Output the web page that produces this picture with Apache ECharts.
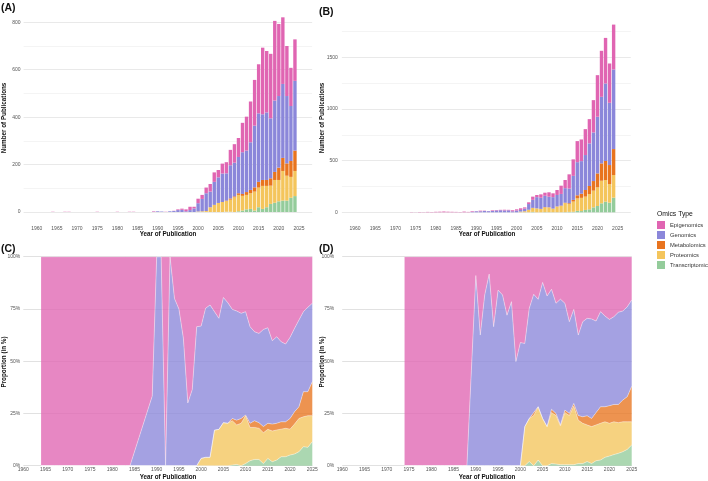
<!DOCTYPE html>
<html lang="en">
<head>
  <meta charset="UTF-8">
  <script src="https://cdn.jsdelivr.net/npm/echarts@6/dist/echarts.min.js"></script>
  <title>omics publications</title>
  <style>html, body { margin: 0; padding: 0; background: #fff; }</style>
</head>
<body>
<div id="chart" style="width: 708px; height: 481px;"></div>
<script type="text/javascript">
  // stacking order, bottom to top
  const types = ['Transcriptomics', 'Proteomics', 'Metabolomics', 'Genomics', 'Epigenomics'];
  const legendOrder = ['Epigenomics', 'Genomics', 'Metabolomics', 'Proteomics', 'Transcriptomics'];
  const typeColors = {
    Epigenomics: '#E065B2',
    Genomics: '#8B87DA',
    Metabolomics: '#E8741F',
    Proteomics: '#F4C55C',
    Transcriptomics: '#94CC9B'
  };

  // (A) publication counts
  const yearsA = [1964, 1967, 1968, 1975, 1980, 1983, 1984,
    1989, 1990, 1991, 1992, 1993, 1994, 1995, 1996, 1997, 1998, 1999,
    2000, 2001, 2002, 2003, 2004, 2005, 2006, 2007, 2008, 2009, 2010, 2011, 2012,
    2013, 2014, 2015, 2016, 2017, 2018, 2019, 2020, 2021, 2022, 2023, 2024];
  const epiA = [1, 1, 1, 1, 1, 1, 1,
    2, 0, 0, 1, 0, 1, 3, 5, 8, 14, 7,
    19, 17, 24, 32, 40, 31, 42, 47, 65, 78, 80, 124, 143, 172, 193, 207, 281, 259, 272, 336, 304, 281, 211, 161, 175];
  const genA = [0, 0, 0, 0, 0, 0, 0,
    1, 3, 2, 0, 3, 4, 8, 9, 3, 8, 15,
    35, 52, 75, 66, 97, 108, 120, 115, 140, 142, 153, 176, 175, 201, 260, 289, 277, 285, 253, 301, 302, 312, 284, 232, 294];
  const metA = [0, 0, 0, 0, 0, 0, 0,
    0, 0, 0, 0, 0, 0, 0, 0, 0, 0, 0,
    0, 0, 0, 0, 0, 0, 0, 2, 5, 4, 7, 8, 12, 14, 18, 24, 25, 25, 31, 34, 52, 55, 52, 67, 86];
  const proA = [0, 0, 0, 0, 0, 0, 0,
    0, 0, 0, 0, 0, 0, 0, 0, 0, 0, 0,
    2, 3, 4, 20, 30, 38, 42, 45, 51, 62, 69, 62, 61, 66, 80, 83, 97, 90, 77, 96, 90, 125, 105, 88, 106];
  const traA = [0, 0, 0, 0, 0, 0, 0,
    0, 0, 0, 0, 0, 0, 0, 0, 0, 0, 0,
    0, 0, 0, 0, 0, 0, 0, 1, 1, 0, 3, 6, 11, 13, 6, 20, 13, 20, 34, 39, 45, 48, 48, 60, 67];

  // (B) publication counts
  const yearsB = [1974, 1975, 1976, 1977, 1978, 1979, 1980, 1981, 1982, 1983, 1984, 1985, 1986, 1987, 1988,
    1989, 1990, 1991, 1992, 1993, 1994, 1995, 1996, 1997, 1998, 1999,
    2000, 2001, 2002, 2003, 2004, 2005, 2006, 2007, 2008, 2009, 2010, 2011, 2012,
    2013, 2014, 2015, 2016, 2017, 2018, 2019, 2020, 2021, 2022, 2023, 2024];
  const epiB = [2, 1, 3, 2, 4, 3, 5, 6, 8, 6, 5, 4, 3, 7, 4,
    6, 1, 6, 3, 1, 6, 4, 4, 7, 5, 10,
    12, 16, 12, 17, 31, 21, 33, 30, 43, 37, 48, 80, 79, 138, 160, 204, 210, 251, 235, 313, 403, 446, 442, 381, 435];
  const genB = [0, 0, 0, 0, 0, 0, 0, 0, 0, 0, 0, 0, 0, 0, 0,
    5, 10, 10, 13, 11, 13, 18, 20, 18, 19, 10,
    17, 16, 25, 55, 78, 109, 108, 109, 102, 111, 111, 113, 141, 142, 233, 321, 316, 339, 413, 471, 549, 645, 751, 603, 771];
  const metB = [0, 0, 0, 0, 0, 0, 0, 0, 0, 0, 0, 0, 0, 0, 0,
    0, 0, 0, 0, 0, 0, 0, 0, 0, 0, 0,
    0, 0, 1, 2, 2, 0, 0, 3, 2, 1, 2, 3, 4, 8, 16, 30, 40, 64, 78, 93, 135, 168, 184, 184, 252];
  const proB = [0, 0, 0, 0, 0, 0, 0, 0, 0, 0, 0, 0, 0, 0, 0,
    0, 0, 0, 0, 0, 0, 0, 0, 0, 0, 0,
    0, 7, 9, 23, 37, 38, 33, 46, 46, 34, 54, 61, 87, 76, 99, 121, 128, 129, 148, 162, 181, 219, 210, 180, 219];
  const traB = [0, 0, 0, 0, 0, 0, 0, 0, 0, 0, 0, 0, 0, 0, 0,
    0, 0, 0, 0, 0, 0, 0, 0, 0, 0, 0,
    0, 0, 1, 0, 4, 0, 0, 2, 1, 1, 1, 1, 2, 4, 5, 14, 12, 23, 29, 48, 61, 87, 103, 94, 142];

  // (C) proportions in %
  const yearsC = [1964, 1967, 1968, 1975, 1980, 1983, 1984,
    1989, 1990, 1991, 1992, 1993, 1994, 1995, 1996, 1997, 1998, 1999,
    2000, 2001, 2002, 2003, 2004, 2005, 2006, 2007, 2008, 2009, 2010, 2011, 2012,
    2013, 2014, 2015, 2016, 2017, 2018, 2019, 2020, 2021, 2022, 2023, 2024, 2025];
  const epiC = [100, 100, 100, 100, 100, 100, 100,
    66.7, 0, 0, 100, 0, 20, 25, 39, 70, 63.6, 33.5,
    33.2, 24.7, 23.1, 26.3, 29.5, 19.5, 22, 25.2, 26, 27.1, 26.3, 33.5, 35.9,
    36.7, 34.8, 34, 40.2, 38.3, 40.7, 41.8, 38.6, 34.3, 30.3, 26.3, 24.2, 22.3];
  const genC = [0, 0, 0, 0, 0, 0, 0,
    33.3, 100, 100, 0, 100, 80, 75, 61, 30, 36.4, 66.5,
    63.3, 71.3, 72.9, 56.7, 53.1, 59.9, 57.7, 52.2, 52.2, 50.3, 49.5, 46.2, 42.6,
    42.7, 46.5, 45.7, 39.9, 41.4, 38.3, 37.2, 38.8, 39.9, 41.5, 38.3, 40.4, 37.5];
  const metC = [0, 0, 0, 0, 0, 0, 0,
    0, 0, 0, 0, 0, 0, 0, 0, 0, 0, 0,
    0, 0, 0, 0, 0, 0, 0, 1.1, 2.3, 2.3, 0.3, 2, 3.2,
    2.7, 2.9, 2.9, 3.3, 3.2, 3.5, 3.1, 5.1, 5.9, 5.6, 12, 11.5, 16.3];
  const proC = [0, 0, 0, 0, 0, 0, 0,
    0, 0, 0, 0, 0, 0, 0, 0, 0, 0, 0,
    3.5, 4, 4, 17, 17.4, 20.6, 20.3, 21.2, 18.9, 20.3, 22.9, 15.9, 15.3,
    14.9, 14.8, 13.9, 14.7, 14.4, 13.2, 13.6, 12.4, 14.3, 15.9, 14.3, 15.1, 12.4];
  const traC = [0, 0, 0, 0, 0, 0, 0,
    0, 0, 0, 0, 0, 0, 0, 0, 0, 0, 0,
    0, 0, 0, 0, 0, 0, 0, 0.3, 0.6, 0, 1, 2.4, 3,
    3, 1, 3.5, 1.9, 2.7, 4.3, 4.3, 5.1, 5.6, 6.7, 9.1, 8.8, 11.5];

  // (D) proportions in %
  const yearsD = [1974, 1975, 1976, 1977, 1978, 1979, 1980, 1981, 1982, 1983, 1984, 1985, 1986, 1987, 1988,
    1989, 1990, 1991, 1992, 1993, 1994, 1995, 1996, 1997, 1998, 1999,
    2000, 2001, 2002, 2003, 2004, 2005, 2006, 2007, 2008, 2009, 2010, 2011, 2012,
    2013, 2014, 2015, 2016, 2017, 2018, 2019, 2020, 2021, 2022, 2023, 2024, 2025];
  const epiD = [100, 100, 100, 100, 100, 100, 100, 100, 100, 100, 100, 100, 100, 100, 100,
    54.5, 9, 37.5, 18.3, 8.3, 33.5, 16, 18.3, 28, 21.5, 50.2,
    41.1, 41.5, 24.7, 18, 20.4, 12.3, 18.8, 15.6, 22.3, 20.3, 22.3, 31.1, 25.2,
    37.5, 31.1, 29.5, 29.8, 30.8, 26.3, 28.4, 30, 28.7, 26.6, 26, 24, 20.7];
  const genD = [0, 0, 0, 0, 0, 0, 0, 0, 0, 0, 0, 0, 0, 0, 0,
    45.5, 91, 62.5, 81.7, 91.7, 66.5, 84, 81.7, 72, 78.5, 49.8,
    58.9, 39.8, 52.7, 56.6, 51.4, 65.1, 62.5, 57.4, 52.7, 60.2, 51.1, 43.9, 45,
    38.5, 45.5, 46.6, 47.6, 43.8, 45.5, 43.4, 41.3, 42, 44.1, 42.6, 43, 41.3];
  const metD = [0, 0, 0, 0, 0, 0, 0, 0, 0, 0, 0, 0, 0, 0, 0,
    0, 0, 0, 0, 0, 0, 0, 0, 0, 0, 0,
    0, 0, 0, 1.4, 0, 0, 0, 1.6, 1, 0.5, 1.2, 1, 1.3,
    2.2, 3.1, 4.4, 3.9, 5.9, 7.9, 7.2, 8.4, 8.3, 8.7, 10.4, 12, 17];
  const proD = [0, 0, 0, 0, 0, 0, 0, 0, 0, 0, 0, 0, 0, 0, 0,
    0, 0, 0, 0, 0, 0, 0, 0, 0, 0, 0,
    0, 18.7, 20.6, 24, 25.5, 22.6, 18.7, 24.4, 23.2, 18.5, 24.9, 23.5, 28,
    20.8, 19.3, 17.5, 17.7, 17.1, 17.6, 17, 15.7, 15.7, 14.7, 14.3, 13.2, 11.1];
  const traD = [0, 0, 0, 0, 0, 0, 0, 0, 0, 0, 0, 0, 0, 0, 0,
    0, 0, 0, 0, 0, 0, 0, 0, 0, 0, 0,
    0, 0, 2, 0, 2.7, 0, 0, 1, 0.8, 0.5, 0.5, 0.5, 0.5,
    1, 1, 2, 1, 2.4, 2.7, 4, 4.6, 5.3, 5.9, 6.7, 7.8, 9.9];

  const panels = [
    {years: yearsA, data: {Transcriptomics: traA, Proteomics: proA, Metabolomics: metA, Genomics: genA, Epigenomics: epiA}},
    {years: yearsB, data: {Transcriptomics: traB, Proteomics: proB, Metabolomics: metB, Genomics: genB, Epigenomics: epiB}},
    {years: yearsC, data: {Transcriptomics: traC, Proteomics: proC, Metabolomics: metC, Genomics: genC, Epigenomics: epiC}},
    {years: yearsD, data: {Transcriptomics: traD, Proteomics: proD, Metabolomics: metD, Genomics: genD, Epigenomics: epiD}}
  ];

  const FONT = '"Liberation Sans", Arial, sans-serif';
  const labelGrey = '#555';

  // value first so that echarts stacks on y (both axes are value axes)
  function rows(years, values) {
    return years.map(function (y, i) { return [values[i], y]; });
  }

  function buildSeries() {
    let series = [];
    panels.forEach(function (p, idx) {
      types.forEach(function (t) {
        let s = {
          name: t, xAxisIndex: idx, yAxisIndex: idx,
          dimensions: ['val', 'yr'],
          encode: {x: 'yr', y: 'val'},
          itemStyle: {color: typeColors[t]},
          data: rows(p.years, p.data[t])
        };
        if (idx < 2) {
          s.type = 'bar';
          s.stack = 'bar' + idx;
          s.barWidth = 3.4;
        } else {
          s.type = 'line';
          s.stack = 'area' + idx;
          s.symbol = 'none';
          s.showSymbol = false;
          s.lineStyle = {color: '#ffffff', width: 0.5, opacity: 0.8};
          s.areaStyle = {color: typeColors[t], opacity: 0.78};
        }
        series.push(s);
      });
    });
    return series;
  }

  function plain(v) { return String(v); }

  function yearAxis(gridIndex, min, max, margin, trimEnds) {
    return {
      gridIndex: gridIndex, type: 'value', min: min, max: max,
      minInterval: 5, maxInterval: 5,
      axisLine: {show: false}, axisTick: {show: false}, splitLine: {show: false},
      axisLabel: {fontSize: 5, color: labelGrey, margin: margin, fontFamily: FONT, formatter: plain,
        showMinLabel: !trimEnds, showMaxLabel: !trimEnds}
    };
  }

  function countAxis(gridIndex, min, max, step, margin) {
    return {
      gridIndex: gridIndex, type: 'value', min: min, max: max,
      minInterval: step, maxInterval: step,
      axisLine: {show: false}, axisTick: {show: false},
      axisLabel: {fontSize: 5, color: labelGrey, margin: margin, fontFamily: FONT, formatter: plain,
        showMinLabel: false, showMaxLabel: false},
      splitLine: {show: true, showMinLine: false, showMaxLine: false, lineStyle: {color: '#e3e3e3', width: 0.8}},
      minorTick: {show: false, splitNumber: 2},
      minorSplitLine: {show: true, lineStyle: {color: '#f1f1f1', width: 0.8}}
    };
  }

  function pctAxis(gridIndex, margin) {
    return {
      gridIndex: gridIndex, type: 'value', min: 0, max: 100, interval: 25,
      axisLine: {show: false}, axisTick: {show: false},
      axisLabel: {fontSize: 5, color: labelGrey, margin: margin, fontFamily: FONT, formatter: '{value}%'},
      splitLine: {show: true, lineStyle: {color: '#d9d9d9', width: 0.8}}
    };
  }

  function txt(text, x, y, size, bold, rotate, align) {
    return {
      type: 'text', x: x, y: y, rotation: rotate ? Math.PI / 2 : 0, z: 100,
      style: {
        text: text, fill: '#111',
        font: (bold ? 'bold ' : '') + size + 'px ' + FONT,
        align: align || 'center', verticalAlign: 'middle'
      }
    };
  }

  function drawChart() {
    let chartDom = document.getElementById('chart');
    let myChart = echarts.init(chartDom, null, {renderer: 'canvas'});
    let option = {
      animation: false,
      backgroundColor: '#ffffff',
      grid: [
        {left: 23.6, top: 7.6, width: 288.5, height: 214.1},
        {left: 341.9, top: 15.2, width: 288.9, height: 206.5},
        {left: 23.3, top: 256.7, width: 289, height: 209},
        {left: 342.2, top: 256.7, width: 289.5, height: 209}
      ],
      xAxis: [
        yearAxis(0, 1956.75, 2028.25, 4, true),
        yearAxis(1, 1956.75, 2028.25, 4, true),
        yearAxis(2, 1960, 2025, 1, false),
        yearAxis(3, 1960, 2025, 1, false)
      ],
      yAxis: [
        countAxis(0, -41, 862, 200, 3),
        countAxis(1, -91, 1910, 500, 4),
        pctAxis(2, 3),
        pctAxis(3, 8)
      ],
      legend: {
        data: legendOrder, orient: 'vertical', left: 657, top: 221, padding: 0,
        icon: 'rect', itemWidth: 8, itemHeight: 8, itemGap: 2,
        selectedMode: false,
        textStyle: {fontSize: 5.8, color: '#333', fontFamily: FONT}
      },
      graphic: [
        txt('(A)', 1, 8, 10.5, true, false, 'left'),
        txt('(B)', 319, 12, 10.5, true, false, 'left'),
        txt('(C)', 1, 249, 10.5, true, false, 'left'),
        txt('(D)', 319, 249, 10.5, true, false, 'left'),
        txt('Number of Publications', 4.5, 118, 6.3, true, true),
        txt('Number of Publications', 322.5, 118, 6.3, true, true),
        txt('Proportion (in %)', 4.5, 362, 6.3, true, true),
        txt('Proportion (in %)', 322.5, 362, 6.3, true, true),
        txt('Year of Publication', 168, 234.3, 6.3, true),
        txt('Year of Publication', 487, 234.3, 6.3, true),
        txt('Year of Publication', 168, 477.5, 6.3, true),
        txt('Year of Publication', 487, 477.5, 6.3, true),
        txt('Omics Type', 657, 214, 6.8, false, false, 'left')
      ],
      series: buildSeries()
    };
    myChart.setOption(option);
  }

  drawChart();
</script>
</body>
</html>
